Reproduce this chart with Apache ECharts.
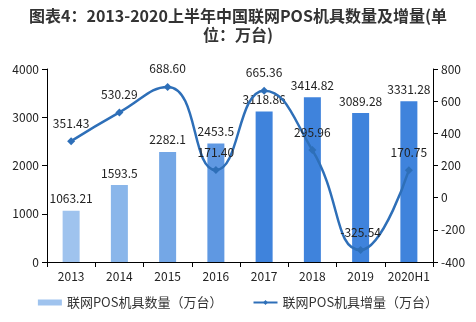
<!DOCTYPE html>
<html><head><meta charset="utf-8">
<script src="https://cdn.jsdelivr.net/npm/echarts@6/dist/echarts.min.js"></script>
<style>html,body{margin:0;padding:0;background:#fff}#c{width:476px;height:322px}</style>
</head><body><div id="c"></div>
<script>
const categories = ['2013','2014','2015','2016','2017','2018','2019','2020H1'];
const quantity = [1063.21, 1593.5, 2282.1, 2453.5, 3118.86, 3414.82, 3089.28, 3331.28];
const quantityLabels = ['1063.21','1593.5','2282.1','2453.5','3118.86','3414.82','3089.28','3331.28'];
const increase = [351.43, 530.29, 688.60, 171.40, 665.36, 295.96, -325.54, 170.75];
const increaseLabels = ['351.43','530.29','688.60','171.40','665.36','295.96','-325.54','170.75'];
const barColors = ['#9fc3ee','#8ab6ea','#74a7e6','#5f98e2','#3f83dc','#3f83dc','#3f83dc','#3f83dc'];
const seriesNames = ['联网POS机具数量（万台）','联网POS机具增量（万台）'];
const titleLines = ['图表4：2013-2020上半年中国联网POS机具数量及增量(单','位：万台)'];

const chart = echarts.init(document.getElementById('c'));
const font = 'Microsoft YaHei, "Noto Sans CJK SC", sans-serif';
const titleStyle = {fontSize: 16, fontWeight: 'bold', color: '#333', fontFamily: font};
chart.setOption({
  animation: false,
  textStyle: {fontFamily: font},
  title: [
    {text: titleLines[0], left: 'center', top: 8, padding: 0, textStyle: titleStyle},
    {text: titleLines[1], left: 'center', top: 27, padding: 0, textStyle: titleStyle}
  ],
  legend: {
    bottom: 8, left: 'center', itemGap: 30, itemWidth: 24, itemHeight: 6,
    textStyle: {fontSize: 13, color: '#333'},
    data: [{name: seriesNames[0], icon: 'rect', itemStyle: {color: '#9fc3ee'}}, {name: seriesNames[1]}]
  },
  grid: {left: 47, right: 43, top: 69, bottom: 60},
  xAxis: {
    type: 'category', data: categories,
    axisLine: {lineStyle: {color: '#000'}},
    axisTick: {show: true, inside: false, length: 5, lineStyle: {color: '#000'}},
    axisLabel: {color: '#222', fontSize: 12, margin: 8, interval: 0}
  },
  yAxis: [
    {type: 'value', min: 0, max: 4000, interval: 1000,
     axisLine: {show: true, lineStyle: {color: '#000'}},
     axisTick: {show: true, length: 5, lineStyle: {color: '#000'}},
     splitLine: {show: false},
     axisLabel: {color: '#222', fontSize: 12, formatter: v => String(v)}},
    {type: 'value', min: -400, max: 800, interval: 200,
     axisLine: {show: true, lineStyle: {color: '#000'}},
     axisTick: {show: true, length: 5, lineStyle: {color: '#000'}},
     splitLine: {show: false},
     axisLabel: {color: '#222', fontSize: 12, formatter: v => String(v)}}
  ],
  series: [
    {name: seriesNames[0], type: 'bar', barWidth: 17, yAxisIndex: 0,
     data: quantity.map((v, i) => ({value: v, itemStyle: {color: barColors[i]}})),
     label: {show: true, position: 'top', distance: 6, color: '#222', fontSize: 12,
             formatter: p => quantityLabels[p.dataIndex]}},
    {name: seriesNames[1], type: 'line', yAxisIndex: 1, smooth: 0.5,
     symbol: 'diamond', symbolSize: 8,
     lineStyle: {color: '#2e6fb8', width: 2.5},
     itemStyle: {color: '#2e6fb8'},
     data: increase,
     label: {show: true, position: 'top', distance: 8, color: '#222', fontSize: 12,
             formatter: p => increaseLabels[p.dataIndex]}}
  ]
});
</script></body></html>
